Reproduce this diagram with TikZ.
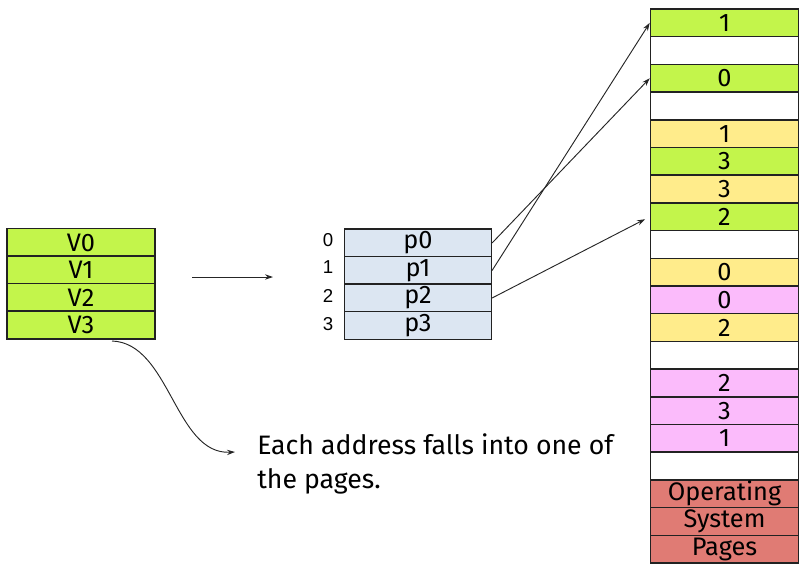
\documentclass[tikz,border=0pt]{standalone}
\usepackage{fontspec}
\setmainfont{Fira Sans}
\newfontfamily\labfont{Liberation Sans}
\usetikzlibrary{arrows.meta}
\definecolor{cgreen}{HTML}{C3F54B}
\definecolor{cyellow}{HTML}{FFEC8B}
\definecolor{cpink}{HTML}{FBBBFB}
\definecolor{cred}{HTML}{E07B74}
\definecolor{cblue}{HTML}{DCE6F2}
\definecolor{cborder}{HTML}{222222}
\begin{document}
\begin{tikzpicture}[x=0.75pt,y=-0.75pt,
  cell/.style={draw=cborder,line width=1.1pt,rectangle,minimum width=111pt,minimum height=20.7pt,inner sep=0pt,font=\fontsize{19}{19}\selectfont},
  gcell/.style={cell,fill=cgreen},
  ycell/.style={cell,fill=cyellow},
  pcell/.style={cell,fill=cpink},
  wcell/.style={cell,fill=white},
  ocell/.style={cell,fill=cred},
  bcell/.style={cell,fill=cblue,minimum width=110pt},
  idx/.style={font=\labfont\fontsize{14}{14}\selectfont,inner sep=0pt},
  arr/.style={draw=black!85,line width=0.7pt,-{Stealth[length=6pt,width=4pt]}}]
\useasboundingbox (0,0) rectangle (805,567);
% left column
\node[gcell] (v0) at (81,242.5) {V0};
\node[gcell] (v1) at (81,270) {V1};
\node[gcell] (v2) at (81,297.5) {V2};
\node[gcell] (v3) at (81,325) {V3};
% middle
\node[bcell] (p0) at (418,243) {p0};
\node[bcell] (p1) at (418,270.5) {p1};
\node[bcell] (p2) at (418,298) {p2};
\node[bcell] (p3) at (418,325.5) {p3};
\node[idx] (i0) at (328,240) {0};
\node[idx] (i1) at (328,267) {1};
\node[idx] (i2) at (328,296) {2};
\node[idx] (i3) at (328,324) {3};
% right column
\node[gcell] (r1) at (724.5,22.85) {1};
\node[wcell] (r2) at (724.5,50.55) {};
\node[gcell] (r3) at (724.5,78.25) {0};
\node[wcell] (r4) at (724.5,105.95) {};
\node[ycell] (r5) at (724.5,133.65) {1};
\node[gcell] (r6) at (724.5,161.35) {3};
\node[ycell] (r7) at (724.5,189.05) {3};
\node[gcell] (r8) at (724.5,216.75) {2};
\node[wcell] (r9) at (724.5,244.45) {};
\node[ycell] (r10) at (724.5,272.15) {0};
\node[pcell] (r11) at (724.5,299.85) {0};
\node[ycell] (r12) at (724.5,327.55) {2};
\node[wcell] (r13) at (724.5,355.25) {};
\node[pcell] (r14) at (724.5,382.95) {2};
\node[pcell] (r15) at (724.5,410.65) {3};
\node[pcell] (r16) at (724.5,438.35) {1};
\node[wcell] (r17) at (724.5,466.05) {};
\node[ocell] (r18) at (724.5,493.75) {Operating};
\node[ocell] (r19) at (724.5,521.45) {System};
\node[ocell] (r20) at (724.5,549.15) {Pages};
% text
\node[anchor=north west,align=left,inner sep=0pt,font=\fontsize{20}{26}\selectfont] (txt) at (257,433) {Each address falls into one of\\the pages.};
% connectors
\coordinate (a1) at (192,277);
\coordinate (a2) at (273,277);
\draw[arr] (a1) -- (a2);
\coordinate (c0) at (112,341);
\coordinate (c1) at (235,452);
\draw[arr] (c0) .. controls (170,343) and (175,455) .. (c1);
\draw[arr] (p0.east) -- (r3.west);
\draw[arr] (p1.east) -- (r1.west);
\draw[arr,shorten >=4pt] (p2.east) -- (r8.west);
\end{tikzpicture}
\end{document}
